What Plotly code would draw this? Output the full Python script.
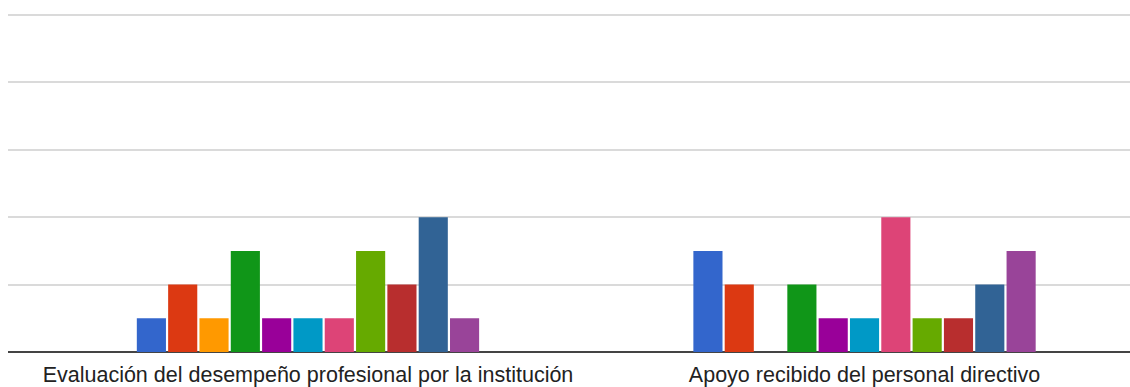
import plotly.graph_objects as go

# Survey items (x categories)
categories = [
    "Evaluación del desempeño profesional por la institución",
    "Apoyo recibido del personal directivo",
]

# Response counts per answer option, one list per option (item 1, item 2)
option_names = [f"Opción {i}" for i in range(1, 12)]
option_values = [
    [1, 3],
    [2, 2],
    [1, 0],
    [3, 2],
    [1, 1],
    [1, 1],
    [1, 4],
    [3, 1],
    [2, 1],
    [4, 2],
    [1, 3],
]
option_colors = [
    "#3366cc", "#dc3912", "#ff9900", "#109618", "#990099", "#0099c6",
    "#dd4477", "#66aa00", "#b82e2e", "#316395", "#994499",
]

fig = go.Figure()
for name, vals, color in zip(option_names, option_values, option_colors):
    fig.add_trace(go.Bar(
        x=categories,
        y=vals,
        name=name,
        marker=dict(color=color, line=dict(width=0)),
        hoverinfo="x+y+name",
    ))

fig.update_layout(
    width=1130,
    height=387,
    margin=dict(l=8, r=0, t=0, b=35),
    paper_bgcolor="white",
    plot_bgcolor="white",
    barmode="group",
    bargap=0.381,
    bargroupgap=0.07,
    showlegend=False,
    font=dict(family="Arial, Liberation Sans, sans-serif", color="#222222"),
    xaxis=dict(
        type="category",
        range=[-0.539, 1.477],
        showgrid=False,
        showline=False,
        zeroline=False,
        ticks="",
        tickfont=dict(size=21.5, color="#222222"),
        ticklabelstandoff=7,
    ),
    yaxis=dict(
        range=[0, 10.445],
        dtick=2,
        showticklabels=False,
        gridcolor="#dadada",
        gridwidth=2,
        zeroline=True,
        zerolinecolor="#444444",
        zerolinewidth=2,
        showline=False,
        ticks="",
    ),
)

fig.write_html("out.html")
